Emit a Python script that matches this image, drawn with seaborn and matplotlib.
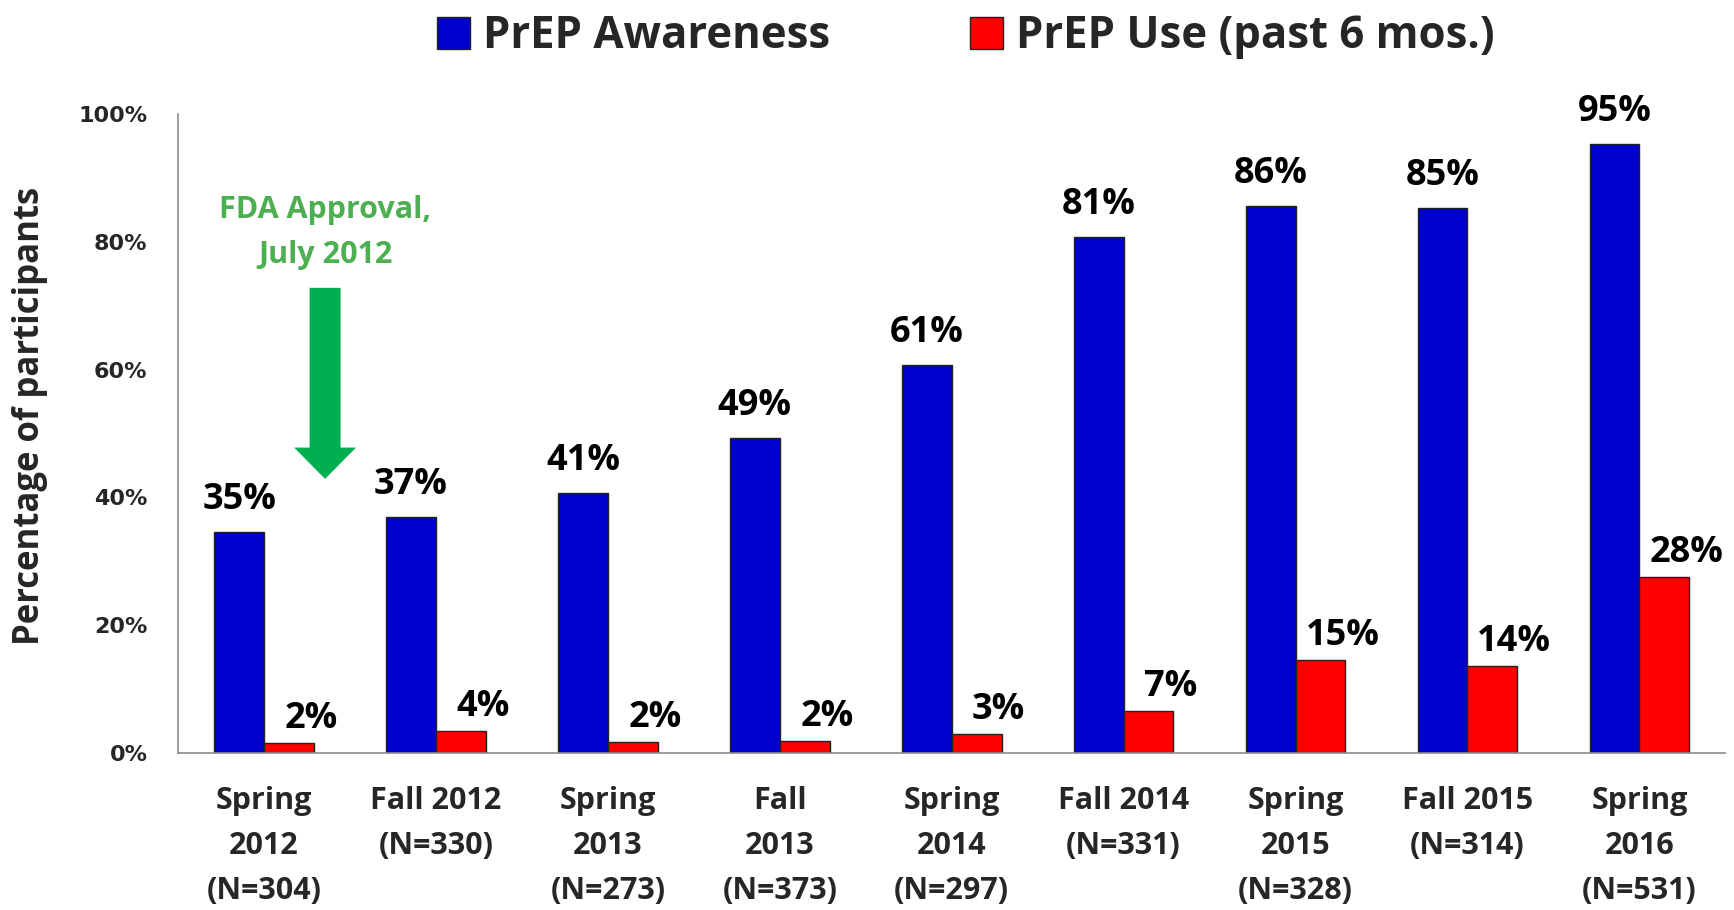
import pandas as pd
import matplotlib
matplotlib.use('Agg')
import matplotlib.pyplot as plt
from matplotlib.patches import Patch
import seaborn as sns

# survey waves and values
periods = ['Spring\n2012\n(N=304)', 'Fall 2012\n(N=330)', 'Spring\n2013\n(N=273)',
           'Fall\n2013\n(N=373)', 'Spring\n2014\n(N=297)', 'Fall 2014\n(N=331)',
           'Spring\n2015\n(N=328)', 'Fall 2015\n(N=314)', 'Spring\n2016\n(N=531)']
awareness = [34.6, 36.9, 40.7, 49.3, 60.7, 80.8, 85.6, 85.3, 95.3]
prep_use = [1.6, 3.5, 1.7, 1.9, 2.9, 6.6, 14.6, 13.6, 27.5]
awareness_labels = ['35%', '37%', '41%', '49%', '61%', '81%', '86%', '85%', '95%']
use_labels = ['2%', '4%', '2%', '2%', '3%', '7%', '15%', '14%', '28%']
yticks = [0, 20, 40, 60, 80, 100]

series = ['PrEP Awareness', 'PrEP Use (past 6 mos.)']
colors = ['#0000CC', '#FF0000']

df = pd.DataFrame({
    'period': periods * 2,
    'pct': awareness + prep_use,
    'measure': [series[0]] * len(periods) + [series[1]] * len(periods),
})

sns.set_style('white')
plt.rcParams['font.family'] = ['Open Sans', 'DejaVu Sans']

fig = plt.figure(figsize=(17.34, 9.10), dpi=100)
ax = fig.add_axes([0.1027, 0.1725, 0.8923, 0.7022])

sns.barplot(data=df, x='period', y='pct', hue='measure', palette=colors, saturation=1,
            width=0.58, edgecolor='#222222', linewidth=1.0, ax=ax, legend=False)

ax.set_xlim(-0.5, len(periods) - 0.5)
ax.set_ylim(0, 100)
ax.set_xlabel('')
ax.set_ylabel('')

# value labels
for cont, labels, dx, dy in [(ax.containers[0], awareness_labels, 0, 14),
                             (ax.containers[1], use_labels, 22, 6)]:
    for bar, lab in zip(cont, labels):
        ax.annotate(lab, (bar.get_x() + bar.get_width() / 2, bar.get_height()),
                    xytext=(dx, dy), textcoords='offset pixels',
                    ha='center', va='bottom', fontsize=26, fontweight='bold',
                    color='black', annotation_clip=False)

ax.set_yticks(yticks)
ax.set_yticklabels([f'{v}%' for v in yticks], fontfamily='DejaVu Sans',
                   fontsize=16, fontweight='bold')
ax.set_xticks(range(len(periods)))
ax.set_xticklabels(periods, fontsize=22, fontweight='bold', linespacing=1.65)
ax.tick_params(axis='x', length=0, pad=24)
ax.tick_params(axis='y', length=0, pad=22)

sns.despine(ax=ax)
for s in ['left', 'bottom']:
    ax.spines[s].set_color('#8c8c8c')
    ax.spines[s].set_linewidth(1.2)

fig.text(0.0173, 0.543, 'Percentage of participants', rotation=90,
         ha='center', va='center', fontsize=25, fontweight='bold')

# FDA approval note
ax.text(0.355, 85, 'FDA Approval,', ha='center', va='center',
        fontsize=22, fontweight='bold', color='#4CAF50')
ax.text(0.355, 78, 'July 2012', ha='center', va='center',
        fontsize=22, fontweight='bold', color='#4CAF50')
ax.arrow(0.355, 72.8, 0, -29.9, width=0.18, head_width=0.36, head_length=4.9,
         length_includes_head=True, color='#00B050', linewidth=0)

handles = [Patch(facecolor=c, edgecolor='#222222', label=s) for c, s in zip(colors, series)]
fig.legend(handles=handles, loc='center', bbox_to_anchor=(0.557, 0.96), ncol=2,
           frameon=False, prop={'size': 31.5, 'weight': 'bold'},
           handlelength=0.75, handleheight=0.75, handletextpad=0.3, columnspacing=3.2)

plt.savefig('out.png', dpi=100)
